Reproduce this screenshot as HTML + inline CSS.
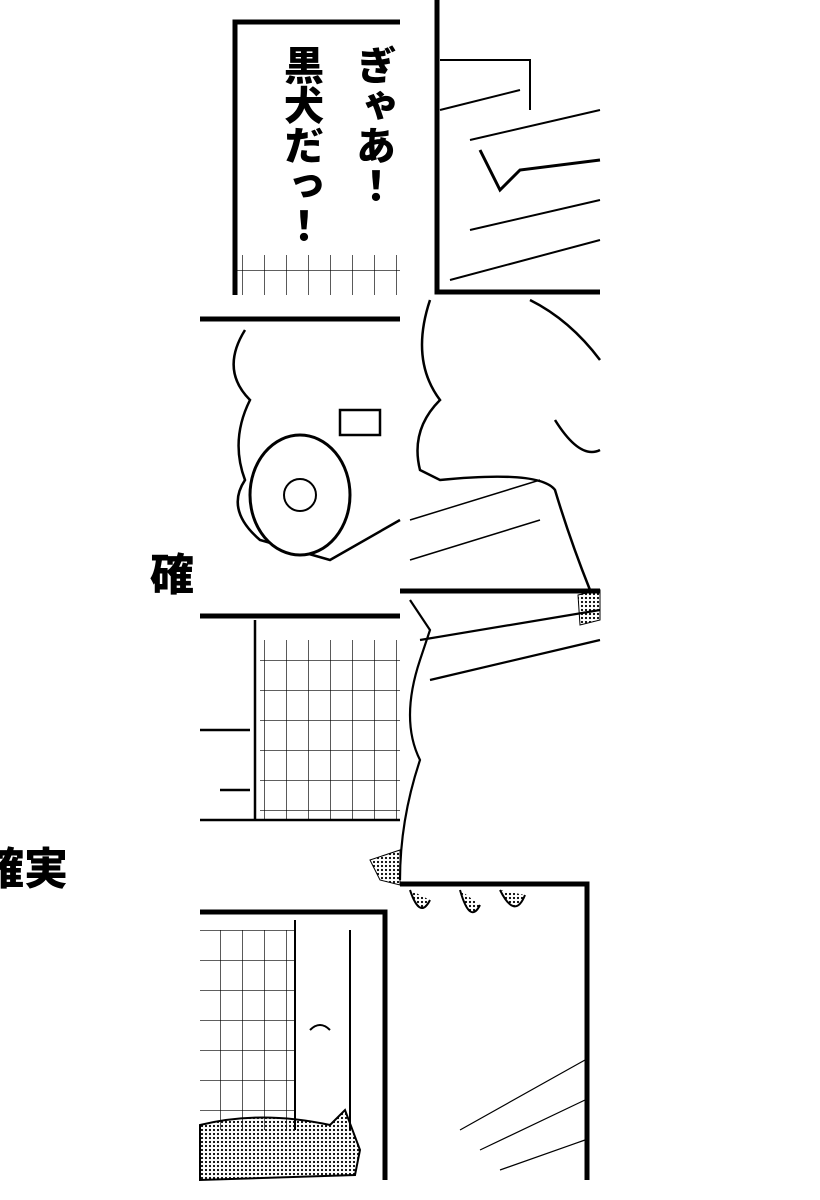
<!DOCTYPE html>
<html><head><meta charset="utf-8"><style>
html,body{margin:0;padding:0;background:#fff;}
svg{display:block}
text{font-family:"Liberation Sans","Noto Sans CJK JP",sans-serif;font-weight:900;}
</style></head><body>
<svg width="820" height="1200" viewBox="0 0 820 1200" xmlns="http://www.w3.org/2000/svg">
<defs>
<pattern id="dots" width="4" height="4" patternUnits="userSpaceOnUse"><circle cx="2" cy="2" r="1.1" fill="#000"/></pattern>
<pattern id="grid" width="22" height="30" patternUnits="userSpaceOnUse"><path d="M0 0H22M0 0V30" stroke="#000" stroke-width="1.3" fill="none"/></pattern>
</defs>
<rect width="820" height="1200" fill="#fff"/>
<!-- tile 1: speech panel -->
<path d="M235 295V22H400" stroke="#000" stroke-width="5" fill="none"/>
<rect x="237" y="255" width="163" height="40" fill="url(#grid)"/>
<text font-size="40" writing-mode="tb" x="372" y="45" style="writing-mode:vertical-rl">ぎゃあ！</text>
<text font-size="40" x="300" y="45" style="writing-mode:vertical-rl">黒犬だっ！</text>
<!-- tile 2 -->
<path d="M437 0V292H600" stroke="#000" stroke-width="5" fill="none"/>
<path d="M440 60H530V110M470 140L600 110M470 230L600 200M450 280L600 240M440 110L520 90" stroke="#000" stroke-width="2" fill="none"/>
<path d="M480 150L500 190L520 170L600 160" stroke="#000" stroke-width="3" fill="none"/>
<!-- row 2 left -->
<path d="M200 319H400" stroke="#000" stroke-width="5"/>
<path d="M245 330Q220 370 250 400Q230 440 245 480Q225 510 260 540L330 560L400 520M340 410H380V435H340Z" stroke="#000" stroke-width="2.5" fill="none"/>
<ellipse cx="300" cy="495" rx="50" ry="60" stroke="#000" stroke-width="3" fill="#fff"/>
<circle cx="300" cy="495" r="16" stroke="#000" stroke-width="2" fill="none"/>
<text font-size="44" x="150" y="590">確</text>
<!-- row 2 right -->
<path d="M435 292H600" stroke="#000" stroke-width="5"/>
<path d="M430 300Q410 360 440 400Q410 430 420 470L440 480Q540 470 555 490Q570 540 590 590M530 300Q570 320 600 360M555 420Q580 460 600 450" stroke="#000" stroke-width="2.5" fill="none"/>
<path d="M410 520L540 480M410 560L540 520" stroke="#000" stroke-width="1.5"/>
<!-- row 3 -->
<path d="M200 616H400" stroke="#000" stroke-width="5"/>
<rect x="260" y="640" width="140" height="180" fill="url(#grid)"/>
<path d="M255 620V820M200 820H400M200 730H250M220 790H250" stroke="#000" stroke-width="2.5" fill="none"/>
<path d="M400 591H600" stroke="#000" stroke-width="5"/>
<path d="M410 600L430 630L420 660Q400 720 420 760Q400 820 400 880M420 640L600 610M430 680L600 640" stroke="#000" stroke-width="2.2" fill="none"/>
<path d="M578 595L600 590V620L580 625Z" fill="url(#dots)" stroke="#000"/>
<path d="M370 860L400 850V885L380 880Z" fill="url(#dots)" stroke="#000"/>
<text font-size="44" x="-20" y="884">確実</text>
<!-- row 4 -->
<path d="M200 912H385V1180" stroke="#000" stroke-width="5" fill="none"/>
<rect x="200" y="930" width="95" height="200" fill="url(#grid)"/>
<path d="M295 920V1130M350 930V1130M310 1030Q320 1020 330 1030" stroke="#000" stroke-width="2" fill="none"/>
<path d="M200 1125Q260 1110 330 1125L345 1110L360 1150L355 1175L200 1180Z" fill="url(#dots)" stroke="#000" stroke-width="2"/>
<path d="M400 884H587V1180" stroke="#000" stroke-width="5" fill="none"/>
<path d="M410 890Q420 920 430 900M460 890Q470 925 480 905M500 890Q515 920 525 895" fill="url(#dots)" stroke="#000" stroke-width="2"/>
<path d="M460 1130L585 1060M480 1150L585 1100M500 1170L585 1140" stroke="#000" stroke-width="1.2"/>
</svg>
</body></html>
